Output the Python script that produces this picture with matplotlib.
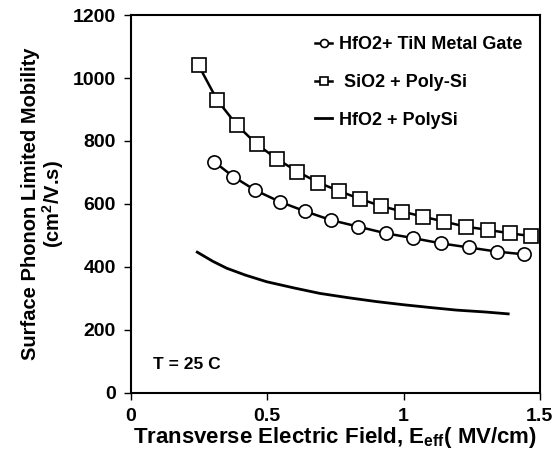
import matplotlib
matplotlib.use("Agg")
import matplotlib.pyplot as plt

plt.rcParams["font.family"] = ["Liberation Sans", "DejaVu Sans"]
plt.rcParams["font.weight"] = "bold"
plt.rcParams["axes.labelweight"] = "bold"
plt.rcParams["mathtext.fontset"] = "custom"
plt.rcParams["mathtext.rm"] = "Liberation Sans:bold"
plt.rcParams["mathtext.bf"] = "Liberation Sans:bold"
plt.rcParams["mathtext.default"] = "bf"

# HfO2 + TiN metal gate (circles)
tin_x = [0.305, 0.375, 0.455, 0.546, 0.638, 0.733, 0.834, 0.934, 1.033, 1.137, 1.239, 1.341, 1.442]
tin_y = [734, 687, 644, 607, 577, 549, 528, 507, 492, 475, 462, 449, 440]

# SiO2 + poly-Si (squares)
sio2_x = [0.248, 0.316, 0.388, 0.461, 0.537, 0.610, 0.687, 0.764, 0.840, 0.916,
          0.995, 1.070, 1.149, 1.228, 1.308, 1.389, 1.469]
sio2_y = [1040, 930, 851, 790, 742, 703, 668, 641, 616, 594, 576, 560, 544, 528, 518, 507, 498]

# HfO2 + PolySi (plain line)
poly_x = [0.243, 0.30, 0.351, 0.42, 0.498, 0.60, 0.693, 0.80, 0.901, 1.00, 1.10, 1.194, 1.30, 1.384]
poly_y = [447, 418, 396, 374, 353, 333, 316, 302, 290, 280, 271, 263, 257, 251]

labels = ["HfO2+ TiN Metal Gate", " SiO2 + Poly-Si", "HfO2 + PolySi"]
xticks = [0, 0.5, 1, 1.5]
yticks = [0, 200, 400, 600, 800, 1000, 1200]

fig = plt.figure(figsize=(5.6, 4.7), dpi=100)
ax = fig.add_axes([0.234, 0.164, 0.730, 0.804])

ax.plot(tin_x, tin_y, color="black", lw=1.8, marker="o", ms=9.5,
        mfc="white", mec="black", mew=1.2, label=labels[0])
ax.plot(sio2_x, sio2_y, color="black", lw=1.8, marker="s", ms=9.5,
        mfc="white", mec="black", mew=1.2, label=labels[1])
ax.plot(poly_x, poly_y, color="black", lw=2, label=labels[2])

ax.set_xlim(0, 1.5)
ax.set_ylim(0, 1200)
ax.set_xticks(xticks)
ax.set_xticklabels(["0", "0.5", "1", "1.5"])
ax.set_yticks(yticks)
ax.tick_params(labelsize=14, width=1, length=5, direction="out")
ax.tick_params(axis="x", pad=6)
ax.tick_params(axis="y", pad=6)
for s in ax.spines.values():
    s.set_linewidth(1.5)

ax.set_xlabel(r"Transverse Electric Field, E$_{eff}$( MV/cm)", fontsize=16, labelpad=0)
ax.set_ylabel("Surface Phonon Limited Mobility\n(cm$^{2}$/V.s)", fontsize=14.5,
              labelpad=5, linespacing=1.0)

ax.text(0.08, 89, "T = 25 C", fontsize=12.5, va="center")

ax.legend(loc="upper left", bbox_to_anchor=(0.45, 0.944), frameon=False,
          prop={"size": 13, "weight": "bold"}, markerscale=0.6,
          handlelength=0.95, handletextpad=0.4,
          labelspacing=1.15, borderpad=0, borderaxespad=0)

fig.savefig("out.png", dpi=100)
